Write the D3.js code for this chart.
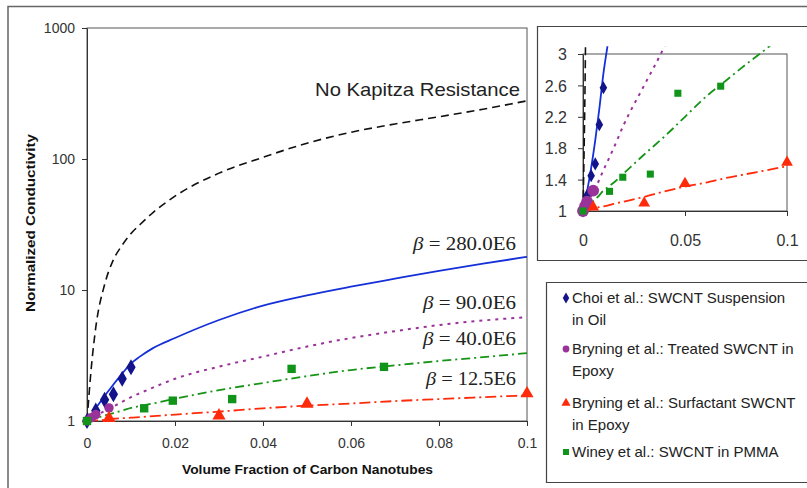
<!DOCTYPE html>
<html>
<head>
<meta charset="utf-8">
<script src="https://cdn.jsdelivr.net/npm/d3@7"></script>
<style>
  body { margin: 0; background: #fff; }
  svg { font-family: Arial, "Liberation Sans", sans-serif; }
</style>
</head>
<body>
<div id="chart-area"></div>
<script>
// model curves
const modelX = [0, 0.001, 0.002, 0.004, 0.006, 0.008, 0.01, 0.012, 0.015, 0.02, 0.03, 0.04, 0.05, 0.06, 0.07, 0.08, 0.09, 0.1];
const noKapitza = [1, 2.6, 5.2, 11, 17, 22, 27, 31.5, 39, 52, 78, 103, 132, 160, 185, 210, 240, 278];
const beta280 = [1, 1.12, 1.25, 1.55, 1.9, 2.3, 2.75, 3.1, 3.6, 4.3, 5.9, 7.6, 9.1, 10.6, 12.2, 14.0, 15.9, 17.9];
const beta90 = [1, 1.05, 1.1, 1.19, 1.29, 1.4, 1.52, 1.63, 1.8, 2.1, 2.6, 3.1, 3.7, 4.3, 4.85, 5.4, 5.85, 6.2];
const beta40 = [1, 1.03, 1.05, 1.1, 1.15, 1.2, 1.26, 1.3, 1.36, 1.48, 1.72, 1.95, 2.2, 2.45, 2.66, 2.87, 3.07, 3.3];
const beta12 = [1, 1.005, 1.01, 1.02, 1.04, 1.05, 1.06, 1.07, 1.09, 1.12, 1.18, 1.25, 1.31, 1.36, 1.42, 1.47, 1.52, 1.57];

// measured points
const choiX = [0, 0.002, 0.004, 0.006, 0.008, 0.01];
const choiY = [1, 1.2, 1.45, 1.6, 2.1, 2.57];
const treatedX = [0, 0.001, 0.002, 0.005];
const treatedY = [1, 1.06, 1.12, 1.26];
const surfX = [0.005, 0.03, 0.05, 0.1];
const surfY = [1.05, 1.1, 1.35, 1.62];
const wineyX = [0, 0.013, 0.0195, 0.033, 0.0465, 0.0675];
const wineyY = [1, 1.25, 1.43, 1.47, 2.5, 2.59];

const mainYTicks = [1, 10, 100, 1000];
const mainXTicks = [0, 0.02, 0.04, 0.06, 0.08, 0.1];
const insetYTicks = [1, 1.4, 1.8, 2.2, 2.6, 3];
const insetXTicks = [0, 0.05, 0.1];

const betaLabels = ['280.0E6', '90.0E6', '40.0E6', '12.5E6'];
const legendLabels = [
  ['Choi et al.: SWCNT Suspension', 'in Oil'],
  ['Bryning et al.: Treated SWCNT in', 'Epoxy'],
  ['Bryning et al.: Surfactant SWCNT', 'in Epoxy'],
  ['Winey et al.: SWCNT in PMMA']
];

const curves = [
  { y: noKapitza, color: '#111', width: 1.6, dash: '8,5' },
  { y: beta280, color: '#1530d8', width: 1.8, dash: null },
  { y: beta90, color: '#993399', width: 2, dash: '3,5' },
  { y: beta40, color: '#169416', width: 1.8, dash: '9,4,2,4' },
  { y: beta12, color: '#ff2a0a', width: 1.8, dash: '11,4,2,4' }
];
const series = [
  { x: choiX, y: choiY, shape: d3.symbolDiamond, color: '#14148a' },
  { x: treatedX, y: treatedY, shape: d3.symbolCircle, color: '#993399' },
  { x: surfX, y: surfY, shape: d3.symbolTriangle, color: '#ff2a0a' },
  { x: wineyX, y: wineyY, shape: d3.symbolSquare, color: '#11941a' }
];

const svg = d3.select('#chart-area').append('svg').attr('width', 807).attr('height', 488);

// outer frames
svg.append('path').attr('d', 'M8,500 L8,6.5 L820,6.5').attr('fill', 'none').attr('stroke', '#666').attr('stroke-width', 1.5);
svg.append('path').attr('d', 'M820,26.5 L537.5,26.5 L537.5,260.5 L820,260.5').attr('fill', 'none').attr('stroke', '#444').attr('stroke-width', 1.2);
svg.append('path').attr('d', 'M820,282.5 L546.5,282.5 L546.5,482.5 L820,482.5').attr('fill', 'none').attr('stroke', '#444').attr('stroke-width', 1.2);

// ---------- main chart ----------
const main = { left: 87, top: 28, right: 527, bottom: 421 };
const xScale = d3.scaleLinear().domain([0, 0.1]).range([main.left, main.right]);
const yScale = d3.scaleLog().domain([1, 1000]).range([main.bottom, main.top]);

svg.append('rect')
  .attr('x', main.left).attr('y', main.top)
  .attr('width', main.right - main.left).attr('height', main.bottom - main.top)
  .attr('fill', 'none').attr('stroke', '#555').attr('stroke-width', 1);

const xAxis = d3.axisBottom(xScale).tickValues(mainXTicks).tickSize(5).tickSizeOuter(0)
  .tickFormat(d => d === 0 ? '0' : d3.format('.2~f')(d));
const xAxisGroup = svg.append('g').attr('transform', `translate(0,${main.bottom})`).call(xAxis);
xAxisGroup.selectAll('text').attr('dy', 0).attr('y', 27).attr('font-size', 14).attr('fill', '#333');

const yAxis = d3.axisLeft(yScale).tickValues(mainYTicks).tickSize(5).tickSizeOuter(0).tickFormat(d3.format('d'));
const yAxisGroup = svg.append('g').attr('transform', `translate(${main.left},0)`).call(yAxis);
yAxisGroup.selectAll('text').attr('x', -12).attr('dy', '0.35em').attr('font-size', 14).attr('fill', '#333');

[xAxisGroup, yAxisGroup].forEach(g => {
  g.select('.domain').attr('stroke', '#333');
  g.selectAll('line').attr('stroke', '#333');
});

svg.append('clipPath').attr('id', 'main-clip').append('rect')
  .attr('x', main.left).attr('y', main.top).attr('width', main.right - main.left + 2).attr('height', main.bottom - main.top + 2);

const mainLine = ys => d3.line()
  .x((d, i) => xScale(modelX[i]))
  .y(d => yScale(d))
  .curve(d3.curveMonotoneX)(ys);

const mainCurves = svg.append('g').attr('clip-path', 'url(#main-clip)');
curves.forEach(c => {
  mainCurves.append('path')
    .attr('d', mainLine(c.y))
    .attr('fill', 'none')
    .attr('stroke', c.color)
    .attr('stroke-width', c.width)
    .attr('stroke-dasharray', c.dash);
});

const mainSizes = [75, 70, 75, 70];
series.forEach((s, k) => {
  svg.append('g').selectAll('path')
    .data(s.x)
    .enter()
    .append('path')
    .attr('d', d3.symbol().type(s.shape).size(mainSizes[k]))
    .attr('transform', (d, i) => `translate(${xScale(d)},${yScale(s.y[i])})`)
    .attr('fill', s.color);
});

// curve labels
svg.append('text')
  .attr('x', 315).attr('y', 96)
  .attr('textLength', 205).attr('lengthAdjust', 'spacingAndGlyphs')
  .attr('font-size', 19)
  .attr('fill', '#222')
  .text('No Kapitza Resistance');

const betaY = [250, 309, 345, 385];
const betaX = [413, 423, 423, 426];
betaLabels.forEach((lab, i) => {
  const t = svg.append('text')
    .attr('x', betaX[i]).attr('y', betaY[i])
    .attr('textLength', 516 - betaX[i]).attr('lengthAdjust', 'spacingAndGlyphs')
    .attr('font-family', '"Liberation Serif", "Times New Roman", serif')
    .attr('font-size', 19)
    .attr('fill', '#222');
  t.append('tspan').attr('font-style', 'italic').text('β');
  t.append('tspan').text(' = ' + lab);
});

// axis titles
svg.append('text')
  .attr('x', 182).attr('y', 474)
  .attr('textLength', 251).attr('lengthAdjust', 'spacingAndGlyphs')
  .attr('font-size', 13.5).attr('font-weight', 'bold')
  .attr('fill', '#111')
  .text('Volume Fraction of Carbon Nanotubes');

svg.append('text')
  .attr('transform', 'translate(35,312) rotate(-90)')
  .attr('textLength', 178).attr('lengthAdjust', 'spacingAndGlyphs')
  .attr('font-size', 13.5).attr('font-weight', 'bold')
  .attr('fill', '#111')
  .text('Normalized Conductivity');

// ---------- inset ----------
const inset = { left: 583, top: 54, right: 787, bottom: 211 };
const ix = d3.scaleLinear().domain([0, 0.1]).range([inset.left, inset.right]);
const iy = d3.scaleLinear().domain([1, 3]).range([inset.bottom, inset.top]);

svg.append('rect')
  .attr('x', inset.left).attr('y', inset.top)
  .attr('width', inset.right - inset.left).attr('height', inset.bottom - inset.top)
  .attr('fill', 'none').attr('stroke', '#555').attr('stroke-width', 1);

const ixAxis = d3.axisBottom(ix).tickValues(insetXTicks).tickSize(5).tickSizeOuter(0).tickFormat(d3.format('~g'));
const ixGroup = svg.append('g').attr('transform', `translate(0,${inset.bottom})`).call(ixAxis);
ixGroup.selectAll('text').attr('dy', 0).attr('y', 35).attr('font-size', 16).attr('fill', '#333');

const iyAxis = d3.axisLeft(iy).tickValues(insetYTicks).tickSize(5).tickSizeOuter(0).tickFormat(d3.format('~g'));
const iyGroup = svg.append('g').attr('transform', `translate(${inset.left},0)`).call(iyAxis);
iyGroup.selectAll('text').attr('x', -16).attr('dy', '0.35em').attr('font-size', 16).attr('fill', '#333');

[ixGroup, iyGroup].forEach(g => {
  g.select('.domain').attr('stroke', '#333');
  g.selectAll('line').attr('stroke', '#333');
});

svg.append('clipPath').attr('id', 'inset-clip').append('rect')
  .attr('x', inset.left - 1).attr('y', iy(3.1)).attr('width', inset.right - inset.left + 2).attr('height', inset.bottom - iy(3.1) + 2);

const insetLine = ys => d3.line()
  .x((d, i) => ix(modelX[i]))
  .y(d => iy(d))
  .curve(d3.curveMonotoneX)(ys);

const insetCurves = svg.append('g').attr('clip-path', 'url(#inset-clip)');
curves.forEach(c => {
  insetCurves.append('path')
    .attr('d', insetLine(c.y))
    .attr('fill', 'none')
    .attr('stroke', c.color)
    .attr('stroke-width', c.width)
    .attr('stroke-dasharray', c.dash);
});

const insetSizes = [50, 110, 60, 50];
series.forEach((s, k) => {
  svg.append('g').selectAll('path')
    .data(s.x)
    .enter()
    .append('path')
    .attr('d', d3.symbol().type(s.shape).size(insetSizes[k]))
    .attr('transform', (d, i) => `translate(${ix(d)},${iy(s.y[i])})`)
    .attr('fill', s.color);
});

// ---------- legend ----------
const legendRowY = [298, 349, 403, 452];
const legend = svg.append('g');
legendLabels.forEach((lines, i) => {
  legend.append('path')
    .attr('d', d3.symbol().type(series[i].shape).size(36))
    .attr('transform', `translate(566,${legendRowY[i]})`)
    .attr('fill', series[i].color);
  lines.forEach((ln, j) => {
    legend.append('text')
      .attr('x', 572).attr('y', legendRowY[i] + j * 22)
      .attr('dy', '0.35em')
      .attr('font-size', 15)
      .attr('fill', '#222')
      .text(ln);
  });
});
</script>
</body>
</html>
